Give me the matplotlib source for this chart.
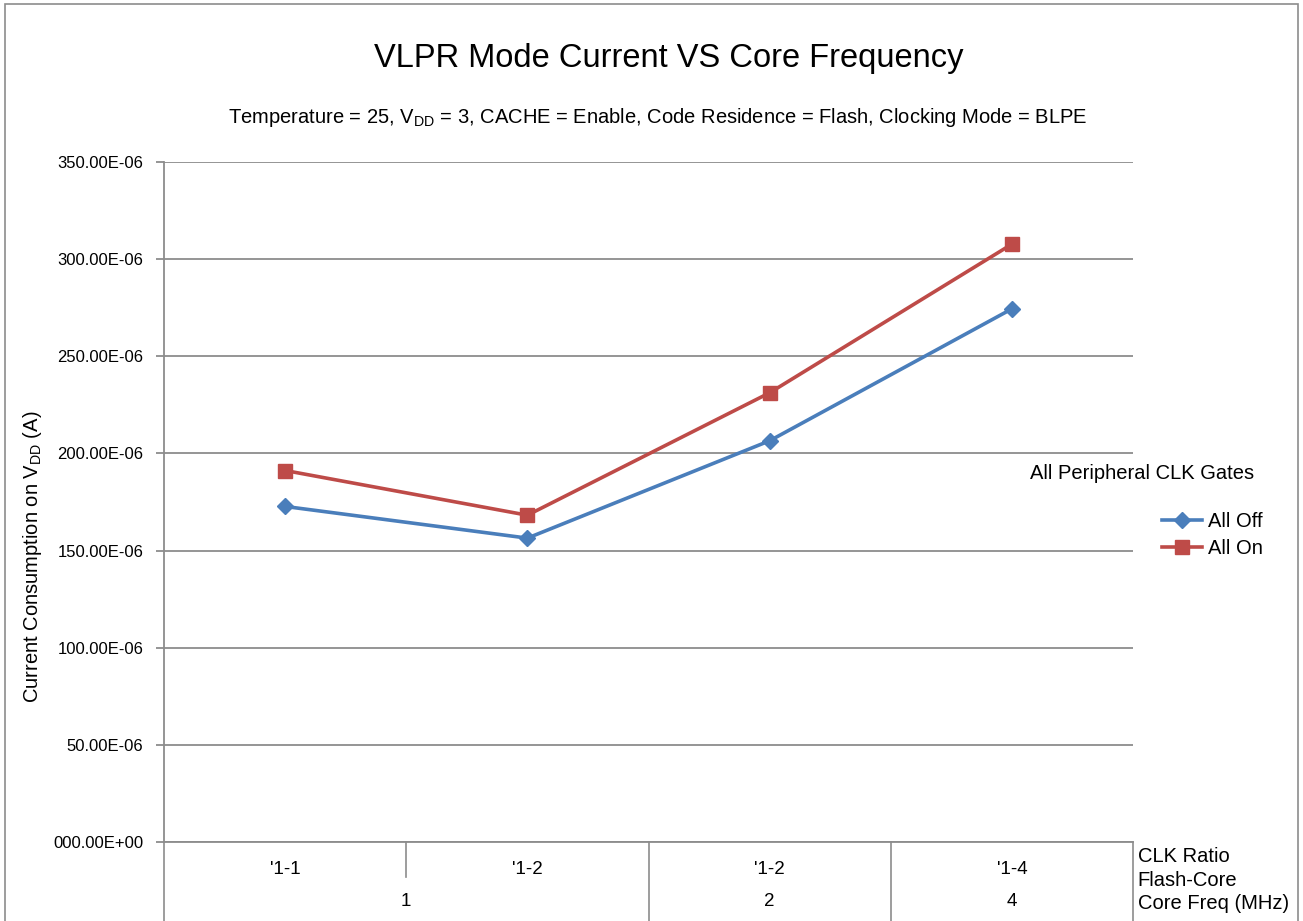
import matplotlib
matplotlib.use("Agg")
import matplotlib.pyplot as plt
from matplotlib.lines import Line2D
from matplotlib.patches import Rectangle

plt.rcParams['font.family'] = ['Liberation Sans', 'DejaVu Sans']
plt.rcParams['mathtext.fontset'] = 'custom'
plt.rcParams['mathtext.rm'] = 'Liberation Sans'

# data
clk_ratio = ["'1-1", "'1-2", "'1-2", "'1-4"]
core_freq = ['1', '2', '4']
freq_span = [2, 1, 1]  # how many ratio columns each freq label covers
all_off = [172.7e-6, 156.4e-6, 206.5e-6, 274.4e-6]
all_on = [191.2e-6, 168.2e-6, 231.2e-6, 307.7e-6]
y_ticks = [0, 50e-6, 100e-6, 150e-6, 200e-6, 250e-6, 300e-6, 350e-6]
y_tick_labels = ['000.00E+00', '50.00E-06', '100.00E-06', '150.00E-06',
                 '200.00E-06', '250.00E-06', '300.00E-06', '350.00E-06']

BLUE = '#4A7EBB'
RED = '#BE4B48'
GRID = '#8C8C8C'

fig = plt.figure(figsize=(13.03, 9.21), dpi=100)
fig.patches.append(Rectangle((0.004, -0.01), 0.992, 1.006, transform=fig.transFigure,
                             fill=False, edgecolor='#8C8C8C', linewidth=1.2))

ax = fig.add_axes([0.1259, 0.0858, 0.7436, 0.7383])
x = list(range(len(clk_ratio)))

ax.plot(x, all_off, color=BLUE, lw=2.6, marker='D', markersize=8, label='All Off')
ax.plot(x, all_on, color=RED, lw=2.6, marker='s', markersize=9.5, label='All On')

ax.set_xlim(-0.5, len(clk_ratio) - 0.5)
ax.set_ylim(0, 350e-6)
ax.set_yticks(y_ticks)
ax.set_yticklabels(y_tick_labels, fontsize=12)
ax.set_xticks([])
ax.yaxis.grid(True, color=GRID, lw=1.3)
ax.set_axisbelow(True)
ax.tick_params(axis='y', length=6, color=GRID, width=1.3, pad=9)
for s in ['top', 'right']:
    ax.spines[s].set_visible(False)
for s in ['left', 'bottom']:
    ax.spines[s].set_color(GRID)
    ax.spines[s].set_linewidth(1.3)

ax.set_ylabel(r'Current Consumption on V$_{\mathrm{DD}}$ (A)', fontsize=14.5)
ax.yaxis.set_label_coords(-0.124, 0.419)

# multi-level category axis
tr = ax.get_xaxis_transform()
for i, lab in enumerate(clk_ratio):
    ax.text(i, -0.040, lab, transform=tr, ha='center', va='center', fontsize=13.5)
pos = 0
bounds = [-0.5]
for lab, span in zip(core_freq, freq_span):
    ax.text(pos + (span - 1) / 2, -0.088, lab, transform=tr, ha='center', va='center', fontsize=13.5)
    pos += span
    bounds.append(pos - 0.5)
for i in range(len(clk_ratio) + 1):
    xb = i - 0.5
    y_end = -0.116 if xb in bounds else -0.052
    ax.add_line(Line2D([xb, xb], [0, y_end], transform=tr, color=GRID, lw=1.2, clip_on=False))

for yy, lab in zip([-0.022, -0.057, -0.091], ['CLK Ratio', 'Flash-Core', 'Core Freq (MHz)']):
    ax.text(1.005, yy, lab, transform=ax.transAxes, ha='left', va='center', fontsize=14.5)

# titles
fig.text(669 / 1303, 1 - 58 / 921, 'VLPR Mode Current VS Core Frequency', ha='center', va='center', fontsize=23.5)
fig.text(658 / 1303, 1 - 117 / 921,
         r'Temperature = 25, V$_{\mathrm{DD}}$ = 3, CACHE = Enable, Code Residence = Flash, Clocking Mode = BLPE',
         ha='center', va='center', fontsize=14.5)

# legend
fig.text(1254 / 1303, 1 - 473 / 921, 'All Peripheral CLK Gates', ha='right', va='center', fontsize=14.5)
fig.legend(loc='center left', bbox_to_anchor=(1152 / 1303, 1 - 535 / 921), frameon=False, fontsize=14.5,
           handlelength=2.0, handletextpad=0.3, labelspacing=0.4, borderpad=0)

fig.savefig('out.png', dpi=100)
